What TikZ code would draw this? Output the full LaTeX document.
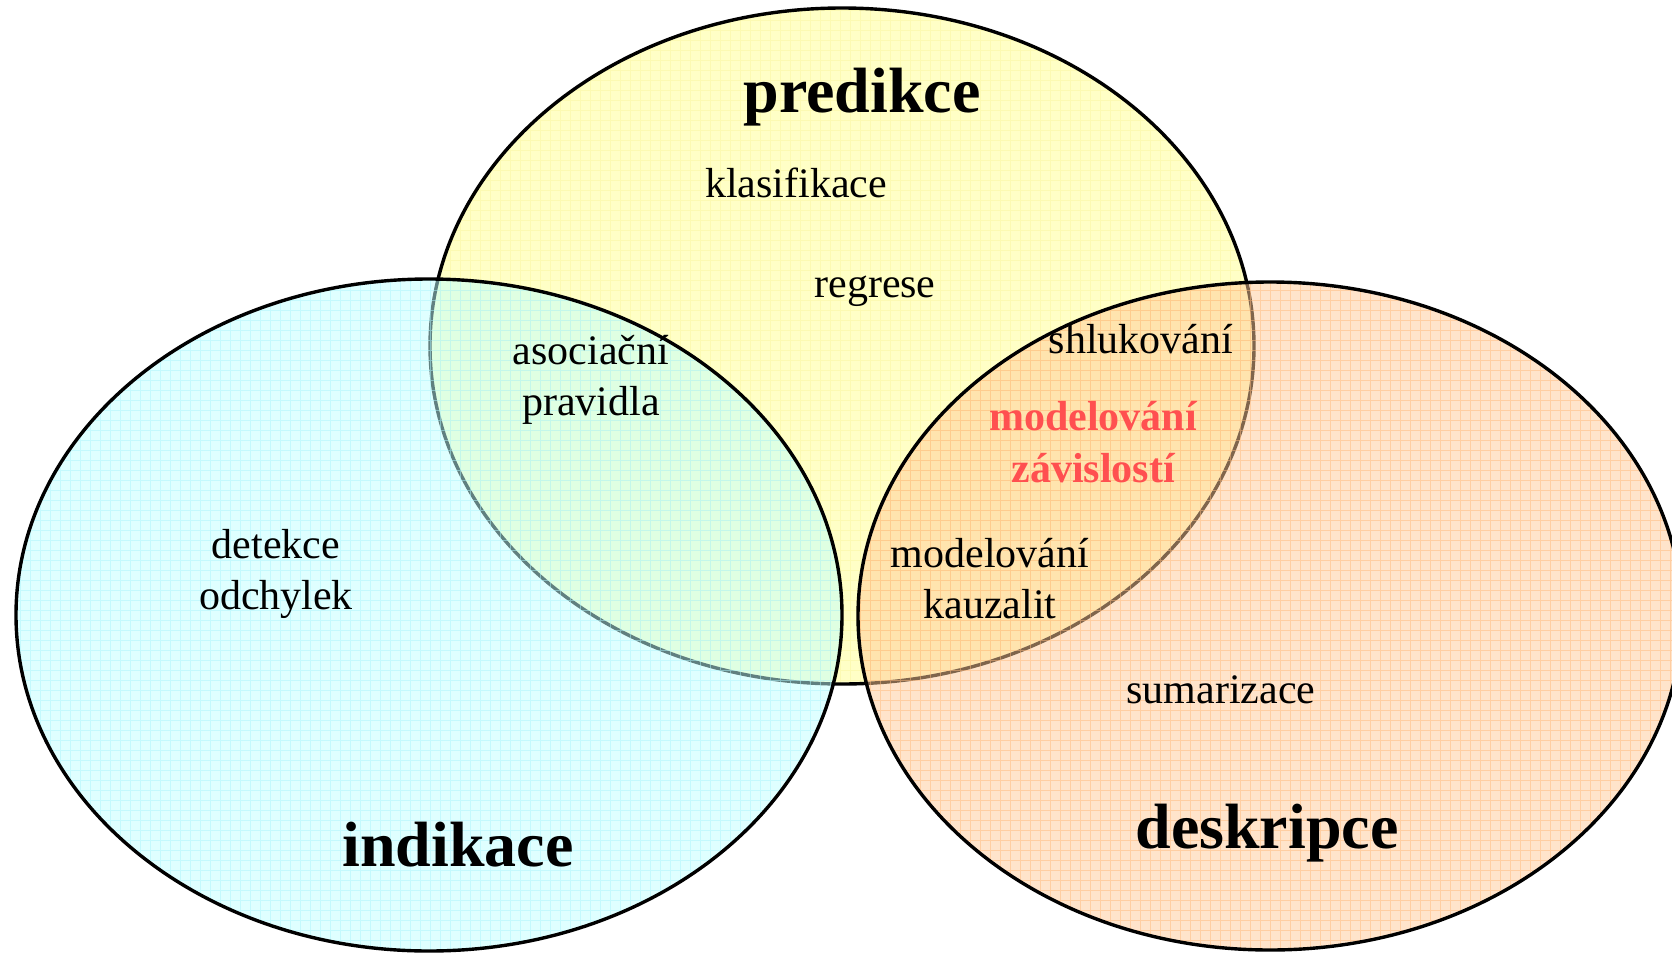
\documentclass[tikz,border=0pt]{standalone}
\usepackage{fontspec}
\setmainfont{Liberation Serif}
\definecolor{predfill}{RGB}{255,255,198}
\definecolor{predgrid}{RGB}{252,250,178}
\definecolor{indfill}{RGB}{192,255,255}
\definecolor{indgrid}{RGB}{170,244,252}
\definecolor{desfill}{RGB}{255,202,152}
\definecolor{desgrid}{RGB}{255,184,122}
\definecolor{hotred}{RGB}{255,80,80}
\begin{document}
\begin{tikzpicture}[x=1pt,y=-1pt,
  rim/.style={line width=3.4pt, draw=black},
  mesh/.style={line width=0.7pt},
  lbl/.style={anchor=base, inner sep=0pt, font=\fontsize{42}{50}\selectfont},
  ttl/.style={anchor=base, inner sep=0pt, font=\fontsize{64}{76}\selectfont\bfseries},
  hot/.style={anchor=base, inner sep=0pt, text=hotred, font=\fontsize{42}{50}\selectfont\bfseries}]
\useasboundingbox (0,0) rectangle (1672,953);

% predikce (drawn first, opaque fill)
\fill[predfill] (842,346) ellipse [x radius=412pt, y radius=338pt];
\begin{scope}
  \clip (842,346) ellipse [x radius=412pt, y radius=338pt];
  \draw[mesh, predgrid] (420,0) grid[step=10pt] (1260,690);
\end{scope}
\draw[rim] (842,346) ellipse [x radius=412pt, y radius=338pt];

% indikace (translucent)
\fill[indfill, fill opacity=0.5] (429,615) ellipse [x radius=413pt, y radius=336pt];
\begin{scope}
  \clip (429,615) ellipse [x radius=413pt, y radius=336pt];
  \draw[mesh, indgrid, draw opacity=0.5] (0,270) grid[step=10pt] (850,960);
\end{scope}
\draw[rim] (429,615) ellipse [x radius=413pt, y radius=336pt];

% deskripce (translucent)
\fill[desfill, fill opacity=0.5] (1270,616) ellipse [x radius=412pt, y radius=334pt];
\begin{scope}
  \clip (1270,616) ellipse [x radius=412pt, y radius=334pt];
  \draw[mesh, desgrid, draw opacity=0.5] (850,270) grid[step=10pt] (1690,960);
\end{scope}
\draw[rim] (1270,616) ellipse [x radius=412pt, y radius=334pt];

% set titles
\node[ttl] (pred) at (862,112) {predikce};
\node[ttl] (ind) at (458,866) {indikace};
\node[ttl] (des) at (1267,848) {deskripce};

% tasks
\node[lbl] (klas) at (796,197) {klasifikace};
\node[lbl] (regr) at (875,297) {regrese};
\node[lbl] (asoc1) at (591,364) {asociační};
\node[lbl] (asoc2) at (591,415) {pravidla};
\node[lbl] (det1) at (276,558) {detekce};
\node[lbl] (det2) at (276,609) {odchylek};
\node[lbl] (shluk) at (1141,353) {shlukování};
\node[hot] (zav1) at (1093,430) {modelování};
\node[hot] (zav2) at (1093,482) {závislostí};
\node[lbl] (kauz1) at (990,567) {modelování};
\node[lbl] (kauz2) at (990,618) {kauzalit};
\node[lbl] (sum) at (1221,703) {sumarizace};
\end{tikzpicture}
\end{document}
